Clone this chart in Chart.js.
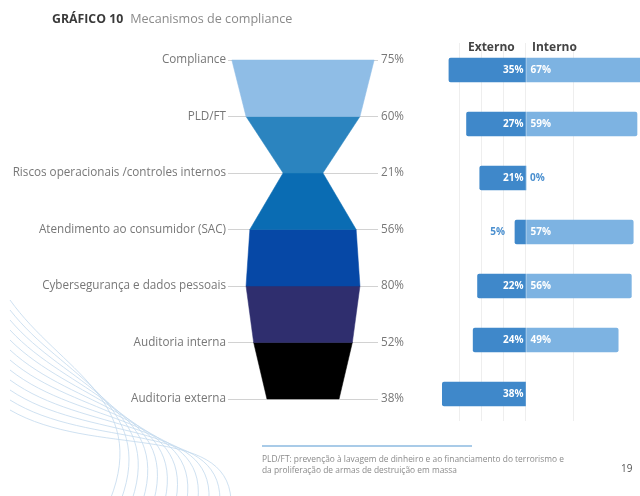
<!DOCTYPE html>
<html>
<head>
<meta charset="utf-8">
<script src="https://cdn.jsdelivr.net/npm/chart.js@4.4.1/dist/chart.umd.min.js"></script>
<style>
html,body{margin:0;padding:0;background:#fff;}
#page{position:relative;width:640px;height:496px;overflow:hidden;font-family:"Open Sans",Lato,sans-serif;}
#funnelBox{position:absolute;left:0;top:0;width:420px;height:496px;}
#barBox{position:absolute;left:420px;top:0;width:220px;height:496px;}
.title{position:absolute;left:52px;top:10px;font-size:12.6px;color:#8a8a8a;white-space:nowrap;}
.title b{color:#3a3a3a;font-size:12.3px;font-weight:700;margin-right:7px;}
.hdr{position:absolute;top:38px;font-size:12px;font-weight:700;color:#444;}
.rule{position:absolute;left:262px;top:445px;width:210px;height:2px;background:#a9cbe8;}
.note{position:absolute;left:262px;top:453px;font-size:8.4px;line-height:11px;color:#8a8a8a;white-space:nowrap;}
.pg{position:absolute;left:621px;top:461px;font-size:10px;color:#555;}
</style>
</head>
<body>
<div id="page">
  <div id="funnelBox"><canvas id="funnel"></canvas></div>
  <div id="barBox"><canvas id="bars"></canvas></div>
  <div class="title"><b>GRÁFICO 10</b>Mecanismos de compliance</div>
  <div class="hdr" style="left:468px">Externo</div>
  <div class="hdr" style="left:532px">Interno</div>
  <div class="rule"></div>
  <div class="note">PLD/FT: prevenção à lavagem de dinheiro e ao financiamento do terrorismo e<br>da proliferação de armas de destruição em massa</div>
  <div class="pg">19</div>
</div>
<script>
// ---------- data ----------
const categories = [
  "Compliance",
  "PLD/FT",
  "Riscos operacionais /controles internos",
  "Atendimento ao consumidor (SAC)",
  "Cybersegurança e dados pessoais",
  "Auditoria interna",
  "Auditoria externa"
];
const totals = [75, 60, 21, 56, 60, 52, 38];          // funnel widths
const totalLabels = ["75%", "60%", "21%", "56%", "80%", "52%", "38%"];
const externo = [35, 27, 21, 5, 22, 24, 38];
const interno = [67, 59, 0, 57, 56, 49, null];

const bandColors = ["#8fbde6", "#2b84bf", "#0a6cb3", "#0648a6", "#2f2e6e", "#000000"];
const FONT = "'Open Sans', Lato, sans-serif";

// decorative wavy lines in the lower-left corner
const wavesPlugin = {
  id: "waves",
  beforeDraw(chart) {
    const ctx = chart.ctx;
    ctx.save();
    ctx.strokeStyle = "#c3d9ee";
    ctx.lineWidth = 0.8;
    for (let k = 0; k < 12; k++) {
      ctx.beginPath();
      ctx.moveTo(10, 300 + k * 10);
      ctx.bezierCurveTo(60 + k * 3, 370 + k * 8, 150 + k * 7, 400 + k * 2, 110 + k * 11, 500);
      ctx.stroke();
    }
    ctx.restore();
  }
};

// ---------- funnel ----------
const bandSets = bandColors.map((c, i) => ({
  data: [
    {x: -totals[i], y: i},
    {x: -totals[i + 1], y: i + 1},
    {x: totals[i + 1], y: i + 1},
    {x: totals[i], y: i},
    {x: -totals[i], y: i}
  ],
  showLine: true,
  fill: "shape",
  backgroundColor: c,
  borderColor: c,
  borderWidth: 0.5,
  pointRadius: 0,
  clip: false
}));

const tickFont = {family: FONT, size: 11.7};

new Chart(document.getElementById("funnel"), {
  type: "scatter",
  data: {datasets: bandSets},
  plugins: [wavesPlugin],
  options: {
    responsive: true,
    maintainAspectRatio: false,
    animation: false,
    layout: {padding: {top: 60, bottom: 97, left: 0, right: 0}},
    plugins: {legend: {display: false}, tooltip: {enabled: false}},
    scales: {
      x: {type: "linear", min: -79, max: 79, display: false},
      y: {
        type: "linear", min: 0, max: 6, reverse: true, position: "left",
        afterBuildTicks: s => { s.ticks = categories.map((_, i) => ({value: i})); },
        afterFit: s => { s.width = 228; },
        ticks: {callback: v => categories[v], padding: 2, color: "#777777", font: tickFont},
        grid: {color: "#d2d2d2", lineWidth: 1, drawTicks: false},
        border: {display: false}
      },
      y2: {
        type: "linear", min: 0, max: 6, reverse: true, position: "right",
        afterBuildTicks: s => { s.ticks = totalLabels.map((_, i) => ({value: i})); },
        afterFit: s => { s.width = 42; },
        ticks: {callback: v => totalLabels[v], padding: 3, color: "#777777", font: tickFont},
        grid: {display: false, drawTicks: false},
        border: {display: false}
      }
    }
  }
});

// ---------- externo / interno bars ----------
const barLabels = {
  id: "barLabels",
  afterDatasetsDraw(chart) {
    const ctx = chart.ctx;
    ctx.save();
    ctx.font = "700 10px " + FONT;
    ctx.textBaseline = "middle";
    chart.getDatasetMeta(0).data.forEach((bar, i) => {
      const v = externo[i];
      if (v == null) return;
      ctx.textAlign = "right";
      if (v >= 10) {
        ctx.fillStyle = "#ffffff";
        ctx.fillText(v + "%", bar.base - 2, bar.y);
      } else {
        ctx.fillStyle = "#4a8fcf";
        ctx.fillText(v + "%", bar.x - 10, bar.y);
      }
    });
    chart.getDatasetMeta(1).data.forEach((bar, i) => {
      const v = interno[i];
      if (v == null) return;
      ctx.textAlign = "left";
      ctx.fillStyle = v > 0 ? "#ffffff" : "#4a8fcf";
      ctx.fillText(v + "%", bar.base + 4, bar.y);
    });
    ctx.restore();
  }
};

const gridOn = "#eeeeee", gridOff = "rgba(0,0,0,0)";

new Chart(document.getElementById("bars"), {
  type: "bar",
  data: {
    labels: categories,
    datasets: [
      {label: "Externo", data: externo.map(v => -v), xAxisID: "xe", backgroundColor: "#3f88ca",
       borderRadius: 2, barThickness: 24, grouped: false, order: 1},
      {label: "Interno", data: interno, xAxisID: "xi", backgroundColor: "#7db3e2",
       borderRadius: 2, barThickness: 24, grouped: false, order: 2}
    ]
  },
  plugins: [barLabels],
  options: {
    indexAxis: "y",
    responsive: true,
    maintainAspectRatio: false,
    animation: false,
    layout: {padding: {top: 43, bottom: 75, left: 10, right: 0}},
    plugins: {legend: {display: false}, tooltip: {enabled: false}},
    scales: {
      y: {display: false},
      xe: {
        type: "linear", position: "bottom", min: -43.6, max: 51.8,
        afterFit: s => { s.height = 0; },
        ticks: {display: false, stepSize: 10},
        grid: {color: c => c.tick && c.tick.value <= 0 && c.tick.value % 10 === 0 ? gridOn : gridOff, drawTicks: false},
        border: {display: false}
      },
      xi: {
        type: "linear", position: "bottom", min: -51.1, max: 60.6,
        afterFit: s => { s.height = 0; },
        ticks: {display: false, stepSize: 25},
        grid: {color: c => c.tick && c.tick.value > 0 && c.tick.value % 25 === 0 ? gridOn : gridOff, drawTicks: false},
        border: {display: false}
      }
    }
  }
});
</script>
</body>
</html>
